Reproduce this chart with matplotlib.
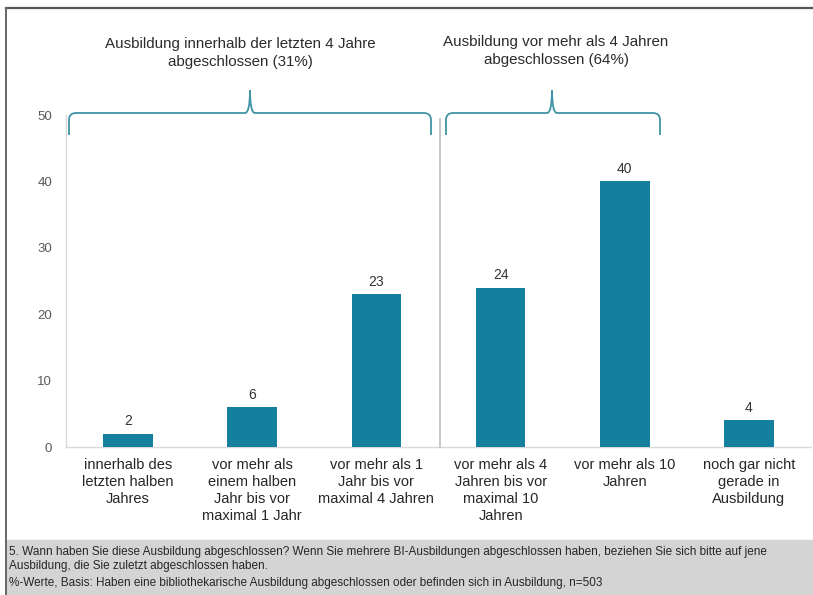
import matplotlib
matplotlib.use("Agg")
import matplotlib.pyplot as plt
from matplotlib.path import Path
from matplotlib.patches import PathPatch, Rectangle
from matplotlib.lines import Line2D

plt.rcParams['font.family'] = ['Liberation Sans', 'DejaVu Sans']

categories = [
    "innerhalb des\nletzten halben\nJahres",
    "vor mehr als\neinem halben\nJahr bis vor\nmaximal 1 Jahr",
    "vor mehr als 1\nJahr bis vor\nmaximal 4 Jahren",
    "vor mehr als 4\nJahren bis vor\nmaximal 10\nJahren",
    "vor mehr als 10\nJahren",
    "noch gar nicht\ngerade in\nAusbildung",
]
values = [2, 6, 23, 24, 40, 4]
y_ticks = [0, 10, 20, 30, 40, 50]
group_labels = [
    "Ausbildung innerhalb der letzten 4 Jahre\nabgeschlossen (31%)",
    "Ausbildung vor mehr als 4 Jahren\nabgeschlossen (64%)",
]
footer_lines = [
    "5. Wann haben Sie diese Ausbildung abgeschlossen? Wenn Sie mehrere BI-Ausbildungen abgeschlossen haben, beziehen Sie sich bitte auf jene",
    "Ausbildung, die Sie zuletzt abgeschlossen haben.",
    "%-Werte, Basis: Haben eine bibliothekarische Ausbildung abgeschlossen oder befinden sich in Ausbildung, n=503",
]

W, H = 813, 595
fig = plt.figure(figsize=(W / 100, H / 100), dpi=100)


def fx(px):
    return px / W


def fy(py):
    return 1 - py / H


bar_color = "#15809e"
brace_color = "#3f93a6"

ax = fig.add_axes([fx(66), fy(447), fx(811) - fx(66), fy(115) - fy(447)])
x = list(range(len(values)))
ax.bar(x, values, width=0.4, color=bar_color, zorder=3)
for xi, v in zip(x, values):
    ax.text(xi, v + 0.8, str(v), ha="center", va="bottom", fontsize=10, color="#333333")

ax.set_xlim(-0.5, len(values) - 0.5)
ax.set_ylim(0, 50)
ax.set_yticks(y_ticks)
ax.set_yticklabels([str(t) for t in y_ticks], fontsize=9.5, color="#595959")
ax.set_xticks(x)
ax.set_xticklabels(categories, fontsize=10.5, color="#262626", linespacing=1.28, va="top")
ax.tick_params(axis="y", length=0, pad=10)
ax.tick_params(axis="x", length=0, pad=8)
for s in ["top", "right"]:
    ax.spines[s].set_visible(False)
for s in ["left", "bottom"]:
    ax.spines[s].set_color("#d9d9d9")
    ax.spines[s].set_linewidth(1.0)
ax.set_facecolor("none")

# separator between the two groups
fig.add_artist(Line2D([fx(440), fx(440)], [fy(119), fy(447)], color="#bdbdbd", lw=1.2))


def brace(xa, xb, xp, y_end=135, y_h=113, y_p=90, r=7):
    pts = [
        (xa, y_end), (xa, y_h + r),
        (xa, y_h), (xa + r, y_h),
        (xp - 5, y_h),
        (xp, y_h), (xp, y_p),
        (xp, y_h), (xp + 5, y_h),
        (xb - r, y_h),
        (xb, y_h), (xb, y_h + r),
        (xb, y_end),
    ]
    codes = [Path.MOVETO, Path.LINETO,
             Path.CURVE3, Path.CURVE3,
             Path.LINETO,
             Path.CURVE3, Path.CURVE3,
             Path.CURVE3, Path.CURVE3,
             Path.LINETO,
             Path.CURVE3, Path.CURVE3,
             Path.LINETO]
    verts = [(fx(px), fy(py)) for px, py in pts]
    fig.add_artist(PathPatch(Path(verts, codes), fill=False, edgecolor=brace_color,
                             lw=1.3, transform=fig.transFigure))


brace(69, 431, 250)
brace(446, 660, 552)

fig.text(fx(240), fy(53), group_labels[0], ha="center", va="center", fontsize=10.9,
         color="#2b2b2b", linespacing=1.3)
fig.text(fx(556), fy(51), group_labels[1], ha="center", va="center", fontsize=10.9,
         color="#2b2b2b", linespacing=1.3)

# footer box and frame
fig.add_artist(Rectangle((fx(6), 0), 1 - fx(6), fy(540), color="#d4d4d4",
                         transform=fig.transFigure, zorder=0))
fig.add_artist(Line2D([fx(6), 1], [fy(8), fy(8)], color="#555555", lw=1.6))
fig.add_artist(Line2D([fx(6), fx(6)], [fy(8), 0], color="#666666", lw=1.4))

fig.text(fx(9), fy(552), footer_lines[0], ha="left", va="center", fontsize=8.5, color="#262626")
fig.text(fx(9), fy(566), footer_lines[1], ha="left", va="center", fontsize=8.5, color="#262626")
fig.text(fx(9), fy(583), footer_lines[2], ha="left", va="center", fontsize=8.5, color="#262626")

fig.savefig("out.png", dpi=100)
